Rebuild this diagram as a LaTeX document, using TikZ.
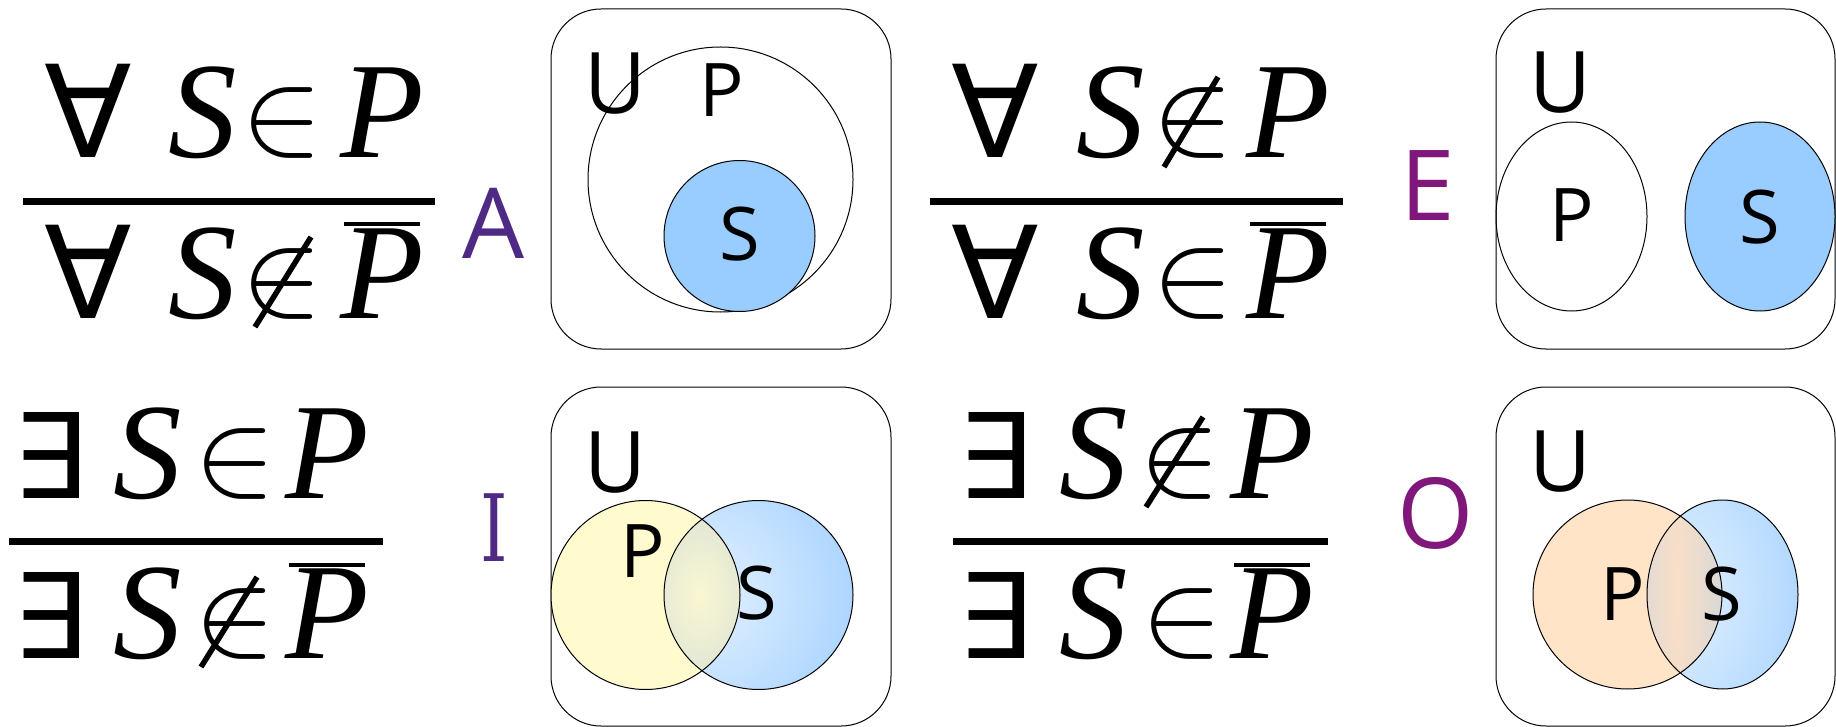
\documentclass[tikz,border=0pt]{standalone}
\usepackage{fontspec}
\usepackage{graphicx}
\usetikzlibrary{calc}
\newfontfamily\osf{Open Sans}
\newfontfamily\lsf{Liberation Serif}
\newfontfamily\djv{DejaVu Sans}
\newfontfamily\djs{DejaVu Serif}
\definecolor{sblue}{HTML}{99CCFF}
\definecolor{lblue}{HTML}{E4F1FF}
\definecolor{pyellow}{HTML}{FFFBCF}
\definecolor{ppeach}{HTML}{FFE4C8}
\definecolor{lensIc}{HTML}{FAF6D2}
\definecolor{lensIe}{HTML}{D2DED6}
\definecolor{lensOc}{HTML}{FADFC6}
\definecolor{lensOe}{HTML}{D8D8D8}
\definecolor{purpA}{HTML}{4E2A84}
\definecolor{purpE}{HTML}{80177A}
\tikzset{
  gl/.style={inner sep=0pt, anchor=base},
  qall/.style={gl, font=\djv\fontsize{128}{128}\selectfont},
  qex/.style={gl, font=\djv\fontsize{118}{118}\selectfont},
  var/.style={gl, font=\lsf\itshape\fontsize{137}{137}\selectfont},
  relm/.style={gl},
  ulab/.style={gl, font=\osf\fontsize{85}{85}\selectfont},
  vlab/.style={gl, font=\osf\fontsize{74}{74}\selectfont},
  kind/.style={gl, font=\osf\fontsize{98}{98}\selectfont},
  fbar/.style={line width=7pt},
  obar/.style={line width=4pt},
  negslash/.style={line width=5.5pt},
  ubox/.style={draw, line width=1pt, rounded corners=50pt},
  ring/.style={draw, line width=1pt},
}
\newcommand\myin{\scalebox{12.2}{$\in$}}
\begin{document}
\begin{tikzpicture}[x=1pt,y=-1pt]
\useasboundingbox (0,0) rectangle (1836,727);

% ---------- formula A ----------
\node[qall] (a1q) at (88,158) {∀};
\node[var]  (a1s) at (203,158) {S};
\node[relm] (a1r) at (282,154) {\myin};
\node[var]  (a1p) at (382,158) {P};
\draw[fbar] (23,201.5) -- (435,201.5);
\node[qall] (a2q) at (88,318) {∀};
\node[var]  (a2s) at (203,318) {S};
\node[relm] (a2r) at (282,314) {\myin};
\draw[negslash] ($(a2r.base)+(29,-77)$) -- ($(a2r.base)+(-27,13)$);
\node[var]  (a2p) at (382,318) {P};
\draw[obar] ($(a2p.base)+(-38,-94)$) -- ($(a2p.base)+(38,-94)$);

% ---------- formula E ----------
\node[qall] (e1q) at (995,158) {∀};
\node[var]  (e1s) at (1111,158) {S};
\node[relm] (e1r) at (1193,154) {\myin};
\draw[negslash] ($(e1r.base)+(25,-77)$) -- ($(e1r.base)+(-29,13)$);
\node[var]  (e1p) at (1288,158) {P};
\draw[fbar] (930,201.5) -- (1343,201.5);
\node[qall] (e2q) at (995,318) {∀};
\node[var]  (e2s) at (1111,318) {S};
\node[relm] (e2r) at (1193,314) {\myin};
\node[var]  (e2p) at (1288,318) {P};
\draw[obar] ($(e2p.base)+(-38,-94)$) -- ($(e2p.base)+(38,-94)$);

% ---------- formula I ----------
\node[qex]  (i1q) at (49.5,498) {∃};
\node[var]  (i1s) at (148,498) {S};
\node[relm] (i1r) at (235,494) {\myin};
\node[var]  (i1p) at (327,498) {P};
\draw[fbar] (9,541.5) -- (383,541.5);
\node[qex]  (i2q) at (49.5,658) {∃};
\node[var]  (i2s) at (148,658) {S};
\node[relm] (i2r) at (235,654) {\myin};
\draw[negslash] ($(i2r.base)+(22,-77)$) -- ($(i2r.base)+(-34,13)$);
\node[var]  (i2p) at (327,658) {P};
\draw[obar] ($(i2p.base)+(-38,-93)$) -- ($(i2p.base)+(38,-93)$);

% ---------- formula O ----------
\node[qex]  (o1q) at (995,498) {∃};
\node[var]  (o1s) at (1094,498) {S};
\node[relm] (o1r) at (1180,494) {\myin};
\draw[negslash] ($(o1r.base)+(23,-77)$) -- ($(o1r.base)+(-34,13)$);
\node[var]  (o1p) at (1272,498) {P};
\draw[fbar] (953,541.5) -- (1328,541.5);
\node[qex]  (o2q) at (995,658) {∃};
\node[var]  (o2s) at (1094,658) {S};
\node[relm] (o2r) at (1182,654) {\myin};
\node[var]  (o2p) at (1272,658) {P};
\draw[obar] ($(o2p.base)+(-38,-93)$) -- ($(o2p.base)+(38,-93)$);

% ---------- type letters ----------
\node[kind, text=purpA] (lA) at (494,259) {A};
\node[kind, text=purpE] (lE) at (1428,221) {E};
\node[gl, text=purpA, font=\djs\fontsize{93}{93}\selectfont] (lI) at (494.5,561) {\scalebox{0.75}[1]{I}};
\node[kind, text=purpE] (lO) at (1436,548) {O};

% ---------- Venn A ----------
\draw[ubox] (551,9) rectangle (891,349);
\draw[ring] (720.5,179.5) circle [radius=132.5];
\filldraw[ring, fill=sblue] (739.5,236) circle [radius=75.5];
\node[ulab] (au) at (615,114) {U};
\node[vlab] (ap) at (722,117) {P};
\node[vlab] (as) at (740,261) {S};

% ---------- Venn E ----------
\draw[ubox] (1496,9) rectangle (1835,349);
\draw[ring] (1571.5,216.5) ellipse [x radius=75.5, y radius=94.5];
\filldraw[ring, fill=sblue] (1760,216.5) ellipse [x radius=75, y radius=94.5];
\node[ulab] (eu) at (1560,113) {U};
\node[vlab] (ep) at (1572,242) {P};
\node[vlab] (es) at (1760,244) {S};

% ---------- Venn I ----------
\draw[ubox] (551,387) rectangle (891,726);
\fill[pyellow] (645.5,595) circle [radius=94.5];
\begin{scope}
  \clip (758.5,595) circle [radius=94.5];
  \shade[inner color=lblue, outer color=sblue] (702,595) circle [radius=205];
\end{scope}
\begin{scope}
  \clip (645.5,595) circle [radius=94.5];
  \clip (758.5,595) circle [radius=94.5];
  \shade[inner color=lensIc, outer color=lensIe] (700,595) ellipse [x radius=80, y radius=130];
\end{scope}
\draw[ring] (645.5,595) circle [radius=94.5];
\draw[ring] (758.5,595) circle [radius=94.5];
\node[ulab] (iu) at (615,492) {U};
\node[vlab] (ip) at (643,577) {P};
\node[vlab] (is) at (757,619) {S};

% ---------- Venn O ----------
\draw[ubox] (1496,387) rectangle (1835,726);
\fill[ppeach] (1627.5,594.5) circle [radius=94.5];
\begin{scope}
  \clip (1722.5,594.5) ellipse [x radius=75.5, y radius=94.5];
  \shade[inner color=lblue, outer color=sblue] (1675,594.5) ellipse [x radius=185, y radius=250];
\end{scope}
\begin{scope}
  \clip (1627.5,594.5) circle [radius=94.5];
  \clip (1722.5,594.5) ellipse [x radius=75.5, y radius=94.5];
  \shade[inner color=lensOc, outer color=lensOe] (1677,594.5) ellipse [x radius=45, y radius=400];
\end{scope}
\draw[ring] (1627.5,594.5) circle [radius=94.5];
\draw[ring] (1722.5,594.5) ellipse [x radius=75.5, y radius=94.5];
\node[ulab] (ou) at (1560,491) {U};
\node[vlab] (op) at (1623,620) {P};
\node[vlab] (os) at (1722,620) {S};
\end{tikzpicture}
\end{document}
